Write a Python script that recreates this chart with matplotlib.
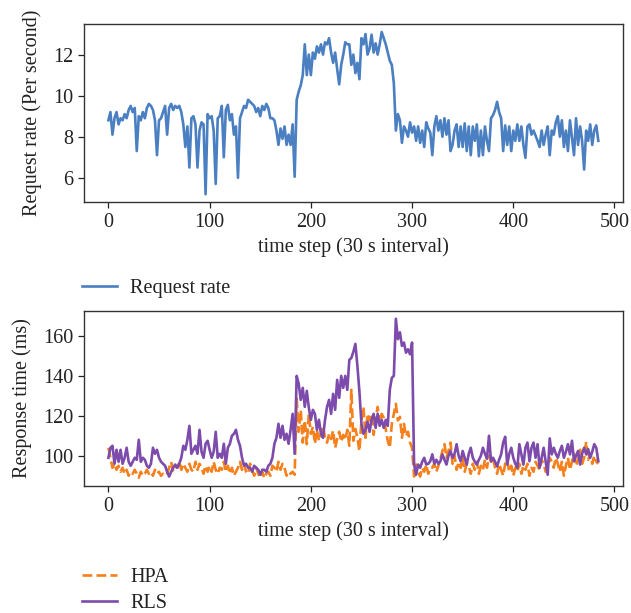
import numpy as np
import matplotlib
matplotlib.use("Agg")
import matplotlib.pyplot as plt

# ---------------- data (every 2nd time step) ----------------
time_step = np.arange(0, 486, 2)

request_rate = [
    8.8, 9.2, 8.1, 8.9, 9.2, 8.6, 8.9, 8.8, 9.1, 8.9,
    9.3, 9.5, 9.2, 9.4, 7.3, 9.0, 8.8, 9.2, 8.9, 9.4,
    9.6, 9.5, 9.3, 8.8, 7.1, 8.8, 8.9, 9.2, 9.5, 8.1,
    9.4, 9.6, 9.3, 9.5, 9.4, 9.5, 9.2, 8.6, 7.5, 8.5,
    6.5, 8.9, 9.0, 8.6, 6.5, 8.3, 8.7, 8.6, 5.2, 9.1,
    8.9, 9.0, 8.3, 5.7, 8.9, 9.0, 9.5, 7.0, 9.3, 9.55,
    8.8, 9.1, 8.1, 8.5, 6.0, 8.9, 9.2, 9.5, 9.4, 9.8,
    9.7, 9.6, 9.5, 9.2, 9.4, 9.0, 9.5, 9.3, 9.6, 9.4,
    8.9, 8.9, 8.8, 8.3, 7.6, 8.4, 7.9, 8.5, 7.6, 8.1,
    7.6, 8.6, 6.05, 9.8, 10.2, 10.5, 11.0, 12.5, 11.0, 12.0,
    11.0, 12.1, 11.8, 12.4, 12.1, 12.5, 12.0, 12.6, 12.5, 12.8,
    12.1, 11.6, 12.1, 11.3, 10.55, 11.5, 12.0, 12.6, 12.5, 12.5,
    11.5, 12.0, 11.1, 11.6, 10.8, 12.8, 12.5, 13.0, 12.0, 12.3,
    12.97, 12.1, 12.55, 12.0, 12.5, 13.1, 12.8, 12.5, 12.1, 11.7,
    11.5, 10.6, 8.3, 9.1, 8.8, 7.7, 8.5, 8.3, 8.0, 8.7,
    8.2, 8.5, 7.8, 8.5, 7.7, 8.3, 7.5, 8.7, 8.4, 8.2,
    7.1, 8.5, 9.0, 8.3, 8.8, 8.0, 8.9, 8.1, 8.8, 7.3,
    7.6, 8.3, 8.6, 7.5, 8.5, 7.5, 8.65, 7.3, 8.5, 7.1,
    8.5, 7.8, 8.6, 7.05, 8.3, 7.1, 8.5, 7.8, 7.3, 8.9,
    9.05, 9.3, 9.7, 9.2, 8.9, 7.3, 8.55, 7.6, 8.5, 7.3,
    8.3, 7.8, 8.6, 7.8, 8.5, 7.6, 6.97, 8.5, 8.6, 8.1,
    8.3, 8.05, 7.8, 7.5, 8.3, 7.6, 8.1, 8.5, 7.1, 8.3,
    8.1, 8.7, 9.0, 8.0, 8.8, 7.5, 8.3, 7.3, 8.8, 7.97,
    7.1, 8.9, 7.6, 8.5, 7.8, 6.4, 8.3, 7.8, 8.6, 7.6,
    8.3, 8.55, 7.8,
]

hpa = [
    104, 99, 94, 96, 93, 95, 92, 94, 91, 93,
    90, 92, 91, 93, 91, 89, 92, 90, 91, 93,
    91, 92, 90, 93, 91, 92, 90, 91, 90, 91,
    94, 97, 92, 95, 94, 97, 93, 96, 94, 92,
    96, 93, 92, 97, 93, 96, 94, 91, 95, 92,
    95, 92, 97, 93, 91, 94, 93, 97, 92, 95,
    91, 94, 90, 92, 94, 97, 93, 96, 92, 91,
    96, 93, 90, 94, 91, 89, 92, 88.8, 91, 92,
    90, 95, 94, 92, 97, 93, 96, 94, 90, 92,
    91, 92, 90.5, 128.7, 112, 122.8, 106.6, 117.7, 105.8, 121,
    111, 114.5, 106, 113, 107.5, 111, 115, 109, 106.6, 111,
    108.4, 112.6, 104, 108.4, 112, 107, 110.5, 108, 113, 105,
    133, 107.5, 113.4, 109, 102.4, 117.7, 124.5, 109, 121, 117.7,
    121, 110.5, 118, 124.5, 116, 121, 119, 113.4, 107.5, 104,
    116, 121, 126, 117.7, 119.5, 109, 116, 109.8, 112, 106.6,
    104, 89.6, 95.6, 92, 89.6, 94, 92, 95.6, 91, 94,
    94, 96, 92, 95, 98.5, 102.4, 105.8, 99, 102.4, 106.6,
    96, 100, 93, 97, 94, 99, 92, 96, 95, 91,
    96, 93, 97, 91, 95, 93, 98, 94, 100, 97,
    99, 94, 91, 96, 93, 90, 96, 98, 92, 95,
    90, 94, 92, 96, 91, 95, 93, 96, 90, 94,
    92, 97, 95, 93, 98, 96, 92, 95, 99, 97,
    94, 99, 96, 92, 97, 90, 95, 99, 93, 97,
    101, 95, 98, 103, 96, 99, 107, 98, 101, 96,
    100, 97, 96,
]

rls = [
    99, 104, 105, 96, 103, 97, 103, 96, 99, 104,
    97, 95, 97, 99, 98, 108, 97, 99, 98, 95,
    94, 96, 104, 101, 103, 99, 97, 96, 95, 92,
    89.6, 92, 94, 95.6, 94, 96, 99, 105, 103, 108,
    115, 101, 103, 105, 101, 113, 102, 99, 106, 107.5,
    103, 99, 102, 112, 99, 101, 99, 106, 96, 104,
    106, 110, 111, 113, 108, 105, 99, 95, 96, 94,
    94, 92, 95, 94, 93, 90.5, 93, 93, 92, 95,
    96, 99, 106, 109, 116, 109, 115, 108, 111, 106,
    113, 121, 101, 140, 136, 128, 134, 124.5, 132.5, 124,
    118, 123, 121, 113, 118, 111, 109, 118, 124.5, 128,
    121, 131, 123, 138, 129, 140, 134, 140, 133, 148,
    149, 152, 156, 145, 132, 116, 111, 113, 117, 112,
    118, 121, 114, 121, 115, 118, 114, 118, 115, 133,
    139, 140, 168.6, 158.4, 161.8, 155, 156.7, 151.6, 153.3, 150.8,
    156.7, 95.6, 90.5, 95.6, 94, 97, 99, 95.6, 96, 97.3,
    100.7, 96, 98, 96, 97.3, 100.7, 98, 95.6, 100, 102.4,
    99, 101, 105.8, 100, 97.3, 102.4, 99, 95.6, 101, 104,
    99, 97, 95.6, 98, 100, 104, 101, 98.5, 110, 97.3,
    99, 97, 94.7, 98, 100.7, 106.6, 109.5, 95.6, 101, 104,
    99, 96, 94, 105.8, 100.7, 95.6, 104, 106.6, 97.3, 104,
    106.6, 99, 105.8, 94, 99, 104, 97, 90.5, 108.7, 100.7,
    104, 101, 99, 102.4, 105, 99, 102, 105.8, 100.7, 107.5,
    97.3, 100, 102.4, 95.6, 101, 104, 100.7, 103.3, 99, 102,
    105.8, 104, 97.3,
]

xlabel = "time step (30 s interval)"
ylabel_top = "Request rate (Per second)"
ylabel_bottom = "Response time (ms)"

# ---------------- style ----------------
plt.rcParams["font.family"] = ["Liberation Serif", "DejaVu Serif"]
plt.rcParams["font.size"] = 14.5
text_color = "#222222"
plt.rcParams["text.color"] = text_color
plt.rcParams["axes.labelcolor"] = text_color
plt.rcParams["xtick.color"] = text_color
plt.rcParams["ytick.color"] = text_color
plt.rcParams["axes.edgecolor"] = "#333333"

blue = "#4a7fc1"
orange = "#f5801c"
purple = "#7c4bab"

fig = plt.figure(figsize=(6.31, 6.13), dpi=100)
ax1 = fig.add_axes([0.133, 0.670, 0.854, 0.291])
ax2 = fig.add_axes([0.133, 0.207, 0.854, 0.286])

ax1.plot(time_step, request_rate, color=blue, lw=1.9, label="Request rate")
ax1.set_xlabel(xlabel)
ax1.set_ylabel(ylabel_top, labelpad=8)
ax1.set_xticks([0, 100, 200, 300, 400, 500])
ax1.set_yticks([6, 8, 10, 12])

ax2.plot(time_step, hpa, color=orange, lw=1.9, ls="--", label="HPA")
ax2.plot(time_step, rls, color=purple, lw=1.9, label="RLS")
ax2.set_xlabel(xlabel)
ax2.set_ylabel(ylabel_bottom, labelpad=8)
ax2.set_xticks([0, 100, 200, 300, 400, 500])
ax2.set_yticks([100, 120, 140, 160])

for ax in (ax1, ax2):
    ax.tick_params(length=4, width=0.9)
    for s in ax.spines.values():
        s.set_linewidth(1.0)

leg_kw = dict(frameon=False, borderpad=0, borderaxespad=0, handlelength=1.75,
              handletextpad=0.65, labelspacing=0.35, fontsize=14.5)
h1, l1 = ax1.get_legend_handles_labels()
fig.legend(h1, l1, loc="upper left", bbox_to_anchor=(0.130, 0.545), **leg_kw)
h2, l2 = ax2.get_legend_handles_labels()
fig.legend(h2, l2, loc="upper left", bbox_to_anchor=(0.130, 0.073), **leg_kw)

fig.savefig("out.png", dpi=100)
